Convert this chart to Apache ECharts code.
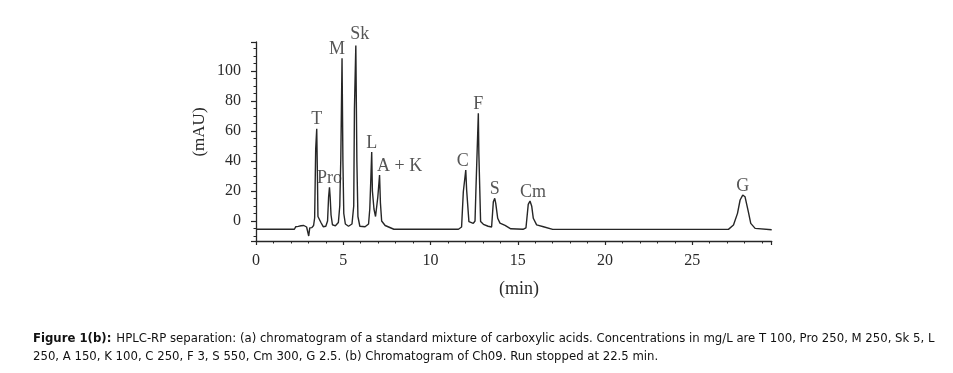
<!DOCTYPE html>
<html>
<head>
<meta charset="utf-8">
<script src="https://cdn.jsdelivr.net/npm/echarts@6/dist/echarts.min.js"></script>
<style>
  html, body { margin: 0; padding: 0; background: #fff; }
  #chart { width: 953px; height: 373px; }
</style>
</head>
<body>
<div id="chart"></div>
<script>
// ---- Data ----
// Retention time (min) of each trace point
const traceTime = [
  0, 2.2, 2.28, 2.36, 2.42, 2.5, 2.58, 2.66, 2.74, 2.82, 2.9, 2.96, 3.02, 3.08, 3.2, 3.3,
  3.36, 3.42, 3.46, 3.48, 3.52, 3.55, 3.62, 3.72, 3.85, 4.0,
  4.1, 4.16, 4.21, 4.25, 4.3, 4.38, 4.55, 4.72,
  4.8, 4.86, 4.9, 4.93, 4.98, 5.03, 5.12, 5.3, 5.5,
  5.6, 5.64, 5.69, 5.72, 5.78, 5.84, 5.95, 6.25, 6.45,
  6.52, 6.57, 6.6, 6.63, 6.67, 6.7, 6.76, 6.85, 6.92, 6.98, 7.04, 7.08, 7.13, 7.2, 7.4, 7.9,
  11.6, 11.78, 11.88, 11.93, 12.02, 12.07, 12.12, 12.2, 12.3, 12.45,
  12.55, 12.6, 12.66, 12.74, 12.77, 12.8, 12.87, 13.03, 13.3,
  13.5, 13.6, 13.68, 13.74, 13.85, 13.98, 14.27, 14.6,
  15.3, 15.47, 15.6, 15.7, 15.8, 15.89, 16.08, 16.47, 17.0,
  27.07, 27.36, 27.59, 27.74, 27.89, 28.02, 28.21, 28.35, 28.6, 29.55
];
// Absorbance (mAU) at each trace point
const traceSignal = [
  -5.5, -5.5, -3.8, -4.6, -3.6, -4.4, -3.2, -4.2, -3.0, -3.6, -4.0, -3.2, -10.0, -4.6, -4.4, -3.0,
  2.0, 48, 48, 61.5, 30, 3, 2.5, -1, -3.8, -3.5,
  0, 16, 22.5, 16, 4, -2.5, -3.2, -1,
  10, 42, 42, 108.5, 40, 5, -2, -3.5, -2,
  10, 74.5, 74.5, 117, 40, 3, -3.5, -3.8, -2,
  8, 24.7, 24.7, 46, 20, 19.5, 8, 3, 4, 16, 16, 30.7, 12, 0, -3, -5.5,
  -5.5, -4, 19.5, 19.5, 34, 20.7, 20, -0.4, -1.4, -1.6,
  0, 20, 20, 71.8, 45, 45, -0.4, -2.2, -3.5,
  -4, 12.9, 15.1, 11.6, 1.8, -1.4, -2.9, -5.2,
  -5.5, -4.5, 11.1, 13.3, 9.8, 1.8, -2.6, -3.8, -5.6,
  -5.6, -2.7, 5.1, 14, 17.3, 16.2, 6.2, -1.6, -4.9, -5.8
];
// Peak annotations
const peakNames = ['T', 'Pro', 'M', 'Sk', 'L', 'A + K', 'C', 'F', 'S', 'Cm', 'G'];
const peakTimes = [3.48, 4.21, 4.93, 5.72, 6.63, 7.08, 12.02, 12.74, 13.68, 15.7, 27.89];
const peakHeights = [61.5, 22.5, 108.5, 117, 46, 30.7, 34, 71.8, 15.1, 13.3, 17.3];
// Axis ticks
const xTickLabels = [0, 5, 10, 15, 20, 25];
const yTickLabels = [0, 20, 40, 60, 80, 100];

const xMin = 0, xMax = 29.55, yMin = -13.33, yMax = 119.33;

// ---- Styling (kept out of the data) ----
const ink = '#262626';
const serif = '"Liberation Serif", "Times New Roman", serif';
const sans = '"Liberation Sans Narrow", "DejaVu Sans Condensed", "Liberation Sans", sans-serif';
const labelOffsets = { 'M': [-5, 0], 'Sk': [4, -2], 'A + K': [20, 0], 'C': [-3, 0], 'Cm': [3, 0] };

const traceData = traceTime.map((t, i) => [t, traceSignal[i]]);
const peakData = peakNames.map((n, i) => ({
  name: n,
  value: [peakTimes[i], peakHeights[i]],
  label: { offset: labelOffsets[n] || [0, 0] }
}));

const chart = echarts.init(document.getElementById('chart'), null, { renderer: 'canvas' });
const gridBox = { left: 256, top: 42, width: 515.7, height: 199, containLabel: false, outerBoundsMode: 'none' };

chart.setOption({
  animation: false,
  backgroundColor: '#fff',
  grid: gridBox,
  xAxis: [
    {
      type: 'value', position: 'bottom', min: xMin, max: xMax, interval: 5,
      axisLine: { show: true, onZero: false, lineStyle: { color: ink, width: 1.3 } },
      axisTick: { show: true, length: 4, lineStyle: { color: ink, width: 1.2 } },
      axisLabel: {
        margin: 12, color: '#2a2a2a', fontFamily: serif, fontSize: 16,
        formatter: v => (xTickLabels.indexOf(v) >= 0 ? String(v) : '')
      },
      splitLine: { show: false }
    },
    {
      type: 'value', position: 'bottom', min: xMin, max: xMax, interval: 1,
      axisLine: { show: false, onZero: false },
      axisTick: { show: true, length: 2.5, lineStyle: { color: ink, width: 1 } },
      axisLabel: { show: false },
      splitLine: { show: false }
    }
  ],
  yAxis: [
    {
      type: 'value', position: 'left', min: yMin, max: yMax, splitNumber: 6,
      axisLine: { show: true, onZero: false, lineStyle: { color: ink, width: 1.3 } },
      axisTick: { show: true, length: 5, lineStyle: { color: ink, width: 1.2 } },
      axisLabel: {
        margin: 15, color: '#2a2a2a', fontFamily: serif, fontSize: 16,
        formatter: v => (yTickLabels.indexOf(Math.round(v * 100) / 100) >= 0 ? String(Math.round(v)) : '')
      },
      splitLine: { show: false }
    },
    {
      type: 'value', position: 'left', min: yMin, max: yMax, splitNumber: 26,
      axisLine: { show: false, onZero: false },
      axisTick: { show: true, length: 2.5, lineStyle: { color: ink, width: 1 } },
      axisLabel: { show: false },
      splitLine: { show: false }
    }
  ],
  title: {
    left: 33, top: 330, padding: 0,
    text: '{b|Figure 1(b):} {n|HPLC-RP separation: (a) chromatogram of a standard mixture of carboxylic acids. Concentrations in mg/L are T 100, Pro 250, M 250, Sk 5, L}\n{n|250, A 150, K 100, C 250, F 3, S 550, Cm 300, G 2.5. (b) Chromatogram of Ch09. Run stopped at 22.5 min.}',
    textStyle: {
      fontWeight: 'normal',
      rich: {
        b: { fontFamily: sans, fontSize: 13, fontWeight: 'bold', color: '#111', lineHeight: 17 },
        n: { fontFamily: sans, fontSize: 13, fontWeight: 'normal', color: '#111', lineHeight: 17 }
      }
    }
  },
  graphic: [
    {
      type: 'text', x: 200, y: 132, rotation: Math.PI / 2,
      style: { text: '(mAU)', font: '17px ' + serif, fill: '#2a2a2a', align: 'center', verticalAlign: 'middle' }
    },
    {
      type: 'text', x: 519, y: 289,
      style: { text: '(min)', font: '18px ' + serif, fill: '#2a2a2a', align: 'center', verticalAlign: 'middle' }
    }
  ],
  series: [
    {
      type: 'line', xAxisIndex: 0, yAxisIndex: 0, data: traceData,
      showSymbol: false, symbol: 'none', silent: true,
      lineStyle: { color: ink, width: 1.4 }
    },
    {
      type: 'scatter', xAxisIndex: 0, yAxisIndex: 0, data: peakData,
      symbolSize: 0, silent: true,
      label: {
        show: true, position: 'top', distance: 0, formatter: p => p.name,
        fontFamily: serif, fontSize: 18, color: '#2a2a2a'
      }
    }
  ]
});
</script>
</body>
</html>
